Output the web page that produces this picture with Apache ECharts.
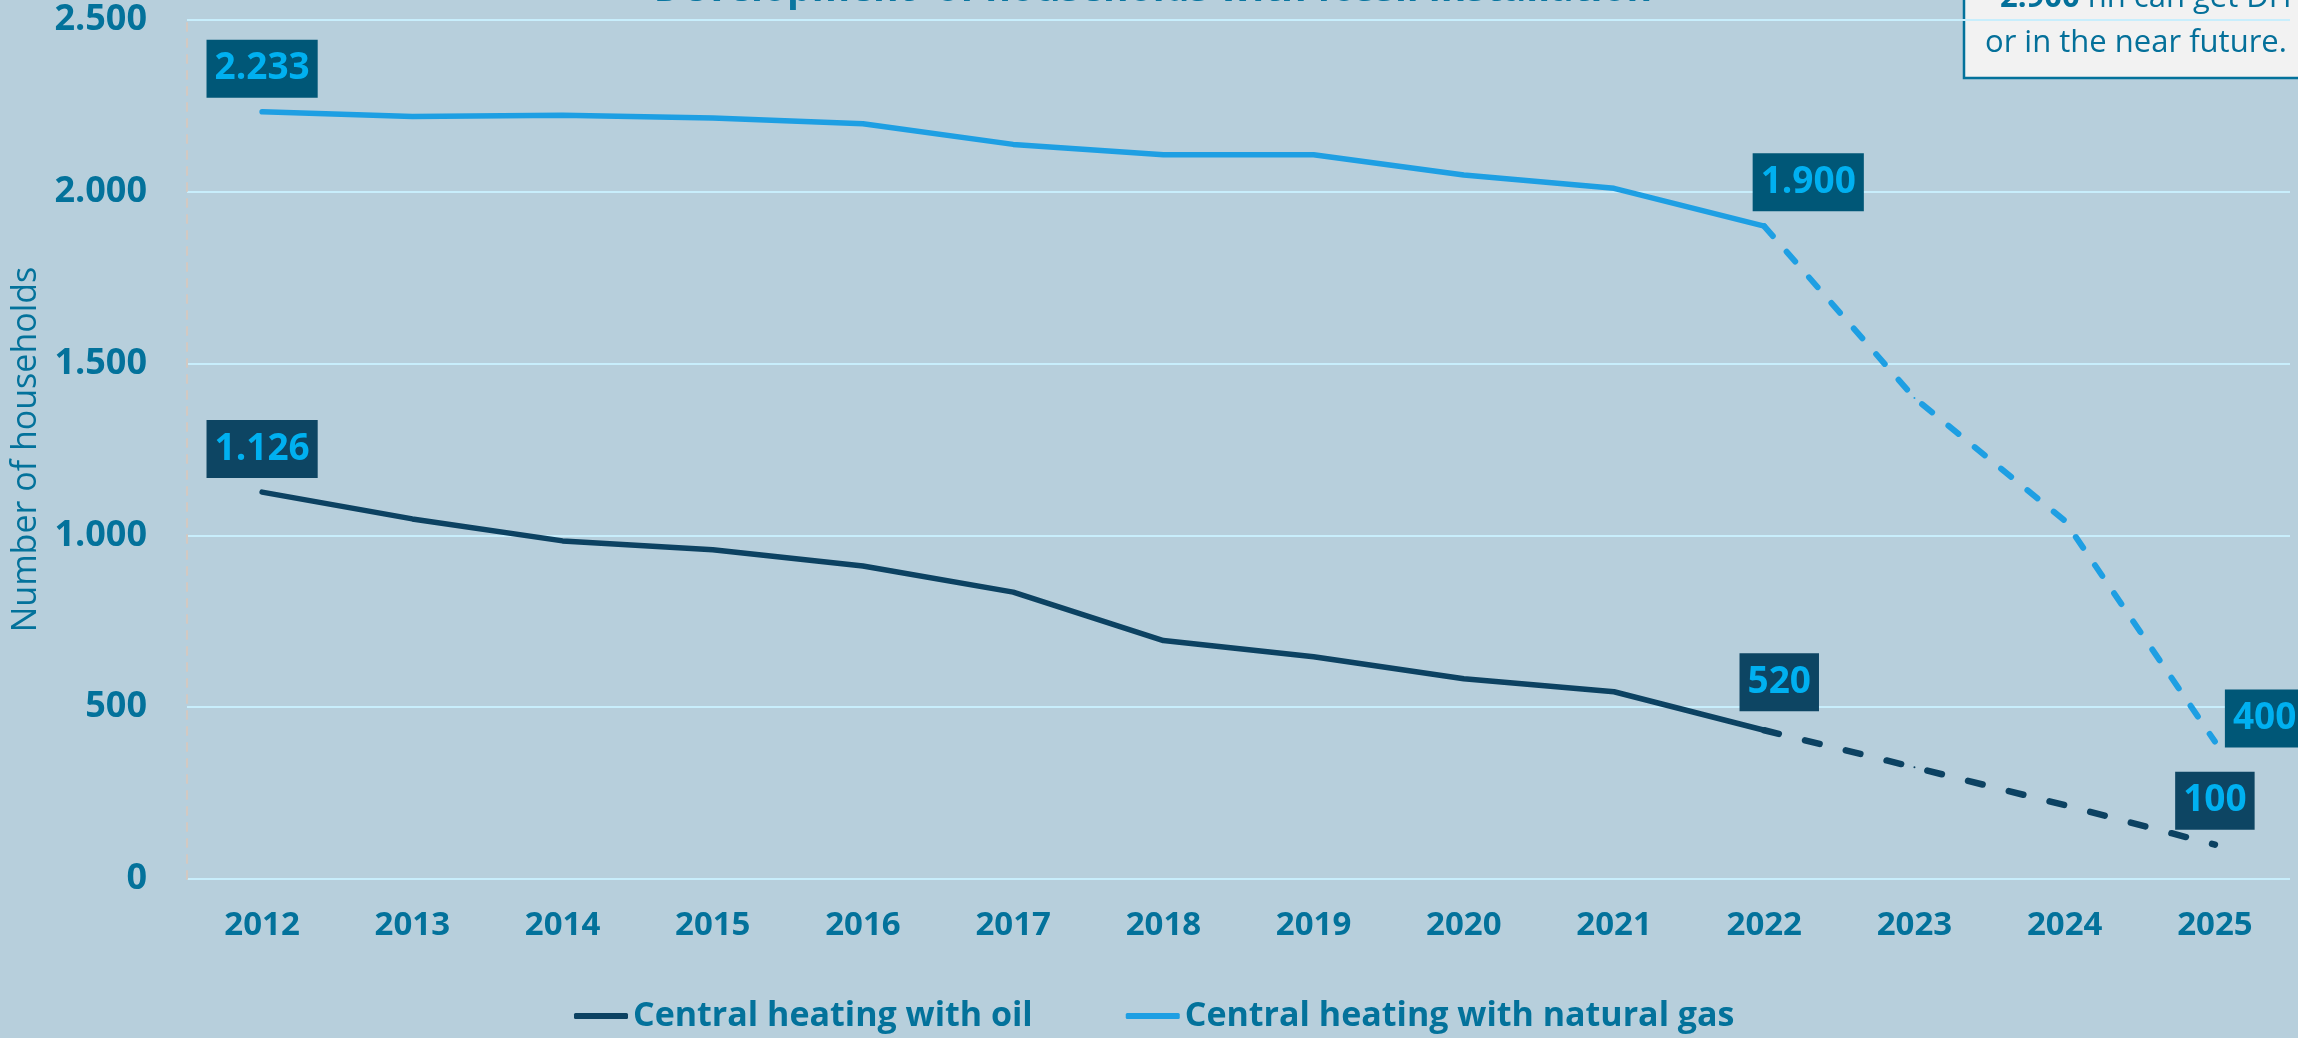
<!DOCTYPE html>
<html>
<head>
<meta charset="utf-8">
<script src="https://cdn.jsdelivr.net/npm/echarts@6/dist/echarts.min.js"></script>
<style>
  html, body { margin: 0; padding: 0; background: #b7cfdc; }
  #chart { width: 2298px; height: 1038px; }
</style>
</head>
<body>
<div id="chart"></div>
<script>
  // data
  const years = ['2012', '2013', '2014', '2015', '2016', '2017', '2018', '2019', '2020', '2021', '2022', '2023', '2024', '2025']
  const oil = [1126, 1048, 984, 958, 911, 835, 694, 647, 583, 545, 433, 325, 215, 100]
  const gas = [2233, 2219, 2223, 2215, 2198, 2138, 2108, 2108, 2049, 2010, 1900, 1400, 1043, 400]
  // label texts as printed on the chart
  const oilLabels = ['1.126', '', '', '', '', '', '', '', '', '', '520', '', '', '100']
  const gasLabels = ['2.233', '', '', '', '', '', '', '', '', '', '1.900', '', '', '400']
  const yTicks = [0, 500, 1000, 1500, 2000, 2500]
  const seriesNames = ['Central heating with oil', 'Central heating with natural gas']
  const lastActual = 10 // 2022, after that dashed (forecast)

  const blue = '#03729b'
  const labelBase = {
    show: true,
    color: '#00b0f0',
    fontSize: 37,
    fontWeight: 'bold',
    fontFamily: 'Open Sans',
    padding: [7, 8, 7, 8],
    lineHeight: 44
  }

  // build series data, only keep points between from..to, attach labels where asked
  function part(values, texts, from, to, bg, pos) {
    return values.map((v, i) => {
      if (i < from || i > to) return '-'
      let item = { value: v }
      if (texts[i] && pos[i]) {
        item.label = Object.assign({}, labelBase, { formatter: texts[i], backgroundColor: bg }, pos[i])
      }
      return item
    })
  }

  const fmt = v => String(v).replace(/\B(?=(\d{3})+(?!\d))/g, '.')

  const lineCommon = {
    type: 'line',
    symbol: 'circle',
    symbolSize: 2,
    showSymbol: true,
    showAllSymbol: true,
    silent: true,
    emphasis: { disabled: true },
    animation: false
  }

  let option = {
    backgroundColor: '#b7cfdc',
    animation: false,
    grid: { left: 187, right: 8, top: 20, bottom: 159, containLabel: false, outerBoundsMode: 'none' },
    legend: {
      left: 569,
      top: 994,
      itemWidth: 54,
      itemHeight: 6,
      itemGap: 93,
      data: [
        { name: seriesNames[0], icon: 'roundRect' },
        { name: seriesNames[1], icon: 'roundRect' }
      ],
      textStyle: { color: blue, fontSize: 34, fontWeight: 'bold', fontFamily: 'Open Sans' },
      selectedMode: false
    },
    xAxis: {
      type: 'category',
      data: years,
      axisLine: { show: false },
      axisTick: { show: false },
      axisLabel: { color: blue, fontSize: 33, fontWeight: 'bold', fontFamily: 'Open Sans', margin: 30 }
    },
    yAxis: {
      type: 'value',
      min: yTicks[0],
      max: yTicks[yTicks.length - 1],
      interval: 500,
      name: 'Number of households',
      nameLocation: 'middle',
      nameRotate: 90,
      nameGap: 143,
      nameTextStyle: { color: blue, fontSize: 34, fontFamily: 'Open Sans' },
      axisLine: { show: true, lineStyle: { color: '#d3c9c2', width: 2, type: [8, 8] } },
      axisTick: { show: false },
      splitLine: { lineStyle: { color: '#c8eefc', width: 2 } },
      axisLabel: {
        color: blue, fontSize: 36, fontWeight: 'bold', fontFamily: 'Open Sans', margin: 40,
        formatter: fmt
      }
    },
    graphic: [
      {
        type: 'text', x: 1153, y: -10,
        style: {
          text: 'Development  of households with fossil installation',
          fill: '#0a76a0', font: 'bold 39px "Open Sans"', textAlign: 'center', textVerticalAlign: 'middle'
        }
      },
      {
        type: 'rect', shape: { x: 1964, y: -10, width: 400, height: 88 },
        style: { fill: '#f2f2f2', stroke: '#03729b', lineWidth: 2.5 }
      },
      {
        type: 'text', x: 2000, y: -2,
        style: {
          text: '{b|2.900} hh can get DH',
          fill: '#04709a', font: '31px "Open Sans"', textVerticalAlign: 'middle',
          rich: { b: { fontWeight: 'bold', fontSize: 31, fontFamily: 'Open Sans', fill: '#04709a' } }
        }
      },
      {
        type: 'text', x: 1985, y: 43,
        style: {
          text: 'or in the near future.',
          fill: '#04709a', font: '31px "Open Sans"', textVerticalAlign: 'middle'
        }
      }
    ],
    series: [
      Object.assign({}, lineCommon, {
        name: seriesNames[0],
        z: 3,
        color: '#0c4262',
        lineStyle: { color: '#0c4262', width: 5.5, cap: 'round' },
        data: part(oil, oilLabels, 0, lastActual, '#0d4563', {
          0: { position: 'top', distance: 13 },
          10: { position: 'top', distance: 18, offset: [15, 0] }
        })
      }),
      Object.assign({}, lineCommon, {
        name: seriesNames[0],
        z: 3,
        color: '#0c4262',
        lineStyle: { color: '#0c4262', width: 6.5, type: [15, 27], cap: 'round' },
        data: part(oil, oilLabels, lastActual, years.length - 1, '#0d4563', {
          13: { position: 'top', distance: 14 }
        })
      }),
      Object.assign({}, lineCommon, {
        name: seriesNames[1],
        z: 2,
        color: '#1e9fe3',
        lineStyle: { color: '#1e9fe3', width: 5.5, cap: 'round' },
        data: part(gas, gasLabels, 0, lastActual, '#005777', {
          0: { position: 'top', distance: 13 },
          10: { position: 'top', distance: 14, offset: [44, 0] }
        })
      }),
      Object.assign({}, lineCommon, {
        name: seriesNames[1],
        z: 2,
        color: '#1e9fe3',
        lineStyle: { color: '#1e9fe3', width: 6, type: [13, 21], cap: 'round' },
        data: part(gas, gasLabels, lastActual, years.length - 1, '#005777', {
          13: { position: 'right', distance: 9, offset: [0, -23] }
        })
      })
    ]
  }

  let myChart = echarts.init(document.getElementById('chart'))
  myChart.setOption(option)
</script>
</body>
</html>
